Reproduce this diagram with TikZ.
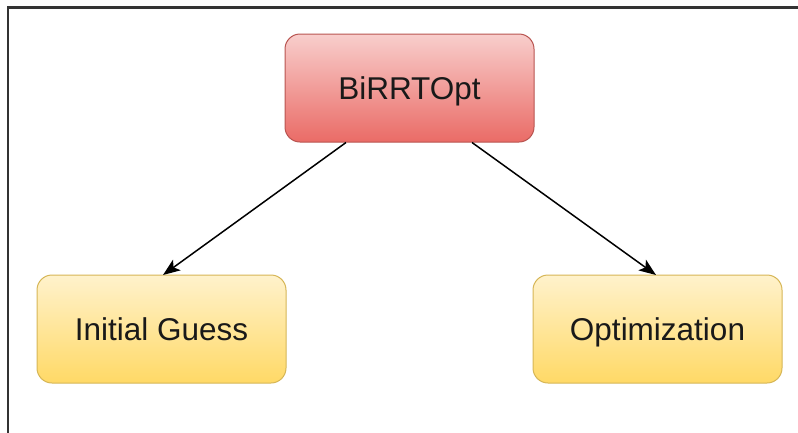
\documentclass[tikz,border=0pt]{standalone}
\usepackage{fontspec}
\setmainfont{Liberation Sans}
\usetikzlibrary{arrows.meta,calc}
\definecolor{redtop}{HTML}{F8CECC}
\definecolor{redbot}{HTML}{EA6B66}
\definecolor{redline}{HTML}{B85450}
\definecolor{yeltop}{HTML}{FFF2CC}
\definecolor{yelbot}{HTML}{FFD966}
\definecolor{yelline}{HTML}{D6B656}
\definecolor{framec}{HTML}{333333}
\begin{document}
\begin{tikzpicture}[x=1pt,y=-1pt,
  boxbase/.style={rounded corners=15pt, minimum width=249pt, minimum height=108pt,
    line width=1pt, font=\fontsize{31.5}{36}\selectfont, inner sep=0pt, text=black!90,
    text height=22.6pt, text depth=0pt},
  redbox/.style={boxbase, draw=redline, top color=redtop, bottom color=redbot},
  yelbox/.style={boxbase, draw=yelline, top color=yeltop, bottom color=yelbot},
  conn/.style={-{Stealth[length=17pt,width=13pt,inset=4pt]}, line width=1.5pt, black}]
\useasboundingbox (0,0) rectangle (798,432);
\draw[framec, line width=2.7pt] (8,440) -- (8,7.5) -- (810,7.5);
\node[redbox] (top) at (409.5,88) {BiRRTOpt};
\node[yelbox] (left) at (161.5,329) {Initial Guess};
\node[yelbox] (right) at (657.5,329) {Optimization};
\draw[conn] ($(top.south)+(-63.5,0)$) -- ($(left.north)+(1.5,0.5)$);
\draw[conn] ($(top.south)+(62.5,0)$) -- ($(right.north)+(-1.5,0.5)$);
\end{tikzpicture}
\end{document}
